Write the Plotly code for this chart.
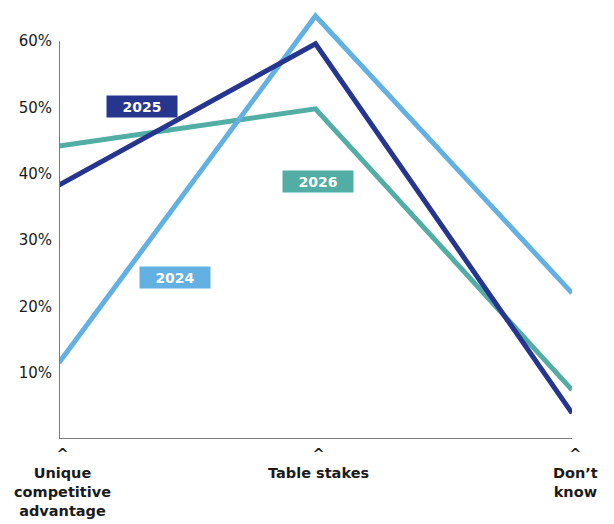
import plotly.graph_objects as go

categories = ["Unique competitive advantage", "Table stakes", "Don’t know"]
category_labels = ["^<br>Unique<br>competitive<br>advantage", "^<br>Table stakes", "^<br>Don’t<br>know"]
years = ["2024", "2025", "2026"]
v2024 = [11.5, 63.8, 22.0]
v2025 = [38.3, 59.6, 3.9]
v2026 = [44.2, 49.8, 7.4]
y_ticks = [10, 20, 30, 40, 50, 60]
y_tick_labels = ["10%", "20%", "30%", "40%", "50%", "60%"]

colors = {"2024": "#63b1e3", "2025": "#26368f", "2026": "#52ada5"}
series = {"2024": v2024, "2025": v2025, "2026": v2026}
xpos = list(range(len(categories)))

FONT = "DejaVu Sans"
TXT = "#1a1a1a"

fig = go.Figure()
for yr in ["2026", "2024", "2025"]:
    fig.add_trace(go.Scatter(x=xpos, y=series[yr], mode="lines", name=yr,
                             line=dict(color=colors[yr], width=5),
                             hoverinfo="skip"))

label_pos = {"2025": (0.324, 50.1), "2026": (1.01, 38.8), "2024": (0.452, 24.4)}
for yr, (lx, ly) in label_pos.items():
    fig.add_annotation(x=lx, y=ly, xref="x", yref="y", text=yr, showarrow=False,
                       bgcolor=colors[yr], width=68, height=19,
                       font=dict(family=FONT, size=14, color="white", weight=700))

# category labels (caret + text)
for xi, lab in zip(xpos, category_labels):
    fig.add_annotation(x=xi, y=0, xref="x", yref="paper", text=lab, showarrow=False,
                       yanchor="top", yshift=-5, align="center",
                       xshift=3,
                       font=dict(family=FONT, size=14.5, color=TXT, weight=700))

# axis lines
fig.add_shape(type="line", xref="x", yref="y", x0=0, x1=0, y0=0, y1=60,
              line=dict(color="#7a7a7a", width=2))
fig.add_shape(type="line", xref="x", yref="y", x0=0, x1=2.01, y0=0, y1=0,
              line=dict(color="#7a7a7a", width=2))

fig.update_layout(
    width=614, height=524,
    margin=dict(l=51, r=50, t=0, b=93),
    paper_bgcolor="white", plot_bgcolor="white",
    showlegend=False,
    font=dict(family=FONT, color=TXT),
    xaxis=dict(range=[0, 2], showticklabels=False, automargin=False,
               showgrid=False, zeroline=False, showline=False, ticks=""),
    yaxis=dict(range=[0, 65], tickvals=y_ticks, ticktext=y_tick_labels,
               automargin=False,
               showgrid=False, zeroline=False, showline=False, ticks="",
               ticklabelstandoff=6,
               tickfont=dict(family=FONT, size=15, color=TXT)),
)

fig.write_html("out.html")
